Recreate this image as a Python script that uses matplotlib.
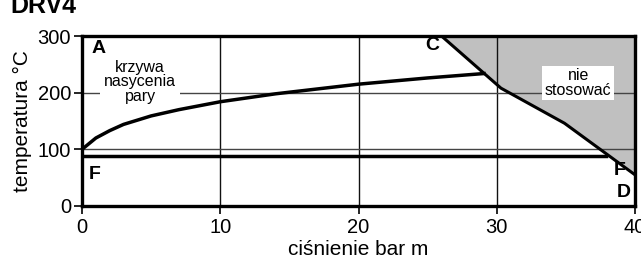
import numpy as np
import matplotlib.pyplot as plt

plt.rcParams['font.family'] = ['Liberation Sans', 'DejaVu Sans']

# krzywa nasycenia pary (odczyt z wykresu)
cisnienie = [0, 1, 2, 3, 5, 7, 10, 14, 20, 25, 29.2]
temperatura = [100, 120, 133, 144, 159, 170, 184, 198, 215, 226, 234]

# granica obszaru "nie stosować"
granica_x = [26, 30.3, 34.9, 40]
granica_y = [300, 208, 146, 55]

linia_F = 88
koniec_F = 37.9

fig = plt.figure(figsize=(6.41, 2.6), dpi=100)
ax = fig.add_axes([0.128, 0.2077, 0.8627, 0.6538])

ax.fill(granica_x + [40], granica_y + [300], color="#c0c0c0", zorder=1)
ax.plot(granica_x, granica_y, color="black", lw=2.2, zorder=4)
ax.plot(cisnienie, temperatura, color="black", lw=2.5, zorder=4, solid_capstyle="butt")
ax.plot([0, koniec_F], [linia_F, linia_F], color="black", lw=2.5, zorder=4)

for x in [10, 20, 30]:
    ax.axvline(x, color="#111111", lw=1.0, zorder=2)
for y in [100, 200]:
    ax.axhline(y, color="#444444", lw=1.0, zorder=2)

ax.set_xlim(0, 40)
ax.set_ylim(0, 300)
ax.set_xticks([0, 10, 20, 30, 40])
ax.set_yticks([0, 100, 200, 300])
ax.tick_params(direction="out", length=6, width=1.2, labelsize=14.5)
ax.tick_params(axis="x", pad=3)
ax.tick_params(axis="y", pad=2)
for s in ax.spines.values():
    s.set_linewidth(2.4)
    s.set_zorder(5)

ax.set_xlabel("ciśnienie bar m", fontsize=15, labelpad=2)
ax.set_ylabel("temperatura °C", fontsize=15, labelpad=4)

ax.text(1.2, 278, "A", fontsize=14, fontweight="bold", ha="center", va="center")
ax.text(25.3, 284, "C", fontsize=14, fontweight="bold", ha="center", va="center")
ax.text(0.9, 56, "F", fontsize=14, fontweight="bold", ha="center", va="center")
ax.text(38.9, 62, "F", fontsize=14, fontweight="bold", ha="center", va="center")
ax.text(39.2, 23, "D", fontsize=14, fontweight="bold", ha="center", va="center")

ax.text(4.2, 219, "krzywa\nnasycenia\npary", fontsize=11.5, ha="center", va="center",
        linespacing=0.95, zorder=3,
        bbox=dict(facecolor="white", edgecolor="none", pad=3))
ax.text(35.9, 217, "nie\nstosować", fontsize=11.5, ha="center", va="center",
        linespacing=0.95, zorder=3,
        bbox=dict(facecolor="white", edgecolor="none", pad=2))

fig.text(10 / 641, 1 - 13 / 260, "DRV4", fontsize=18, fontweight="bold", va="baseline")

fig.savefig("out.png", dpi=100)
